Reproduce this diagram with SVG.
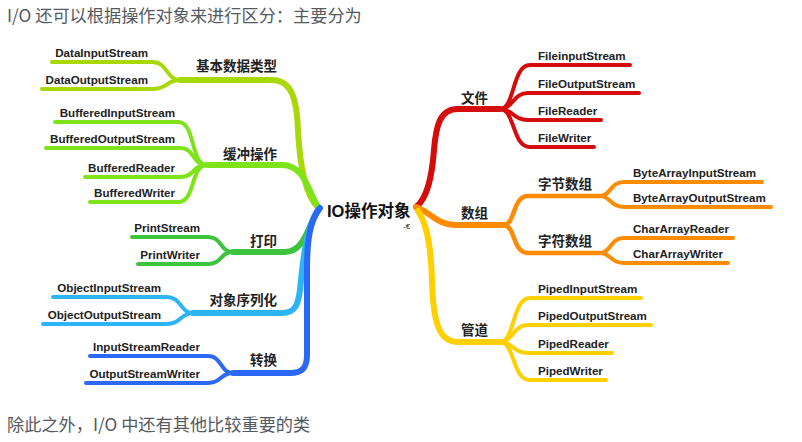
<svg xmlns="http://www.w3.org/2000/svg" width="802" height="442" viewBox="0 0 802 442">
<style>
.p{font-family:"Noto Sans CJK SC","Noto Sans",sans-serif;font-size:17.2px;fill:#555a60}
.leaf{font-family:"Liberation Sans",Arial,sans-serif;font-weight:bold;font-size:11.6px;fill:#222}
.cat{font-family:"Noto Sans CJK SC",sans-serif;font-weight:bold;font-size:13.5px;fill:#222}
.ctr{font-family:"Liberation Sans","Noto Sans CJK SC",sans-serif;font-weight:bold;font-size:16.5px;fill:#111}
path{fill:none;stroke-linecap:round;stroke-linejoin:round}
.m{stroke-width:6}
.s{stroke-width:4.5}
.l{stroke-width:4}
.c1{stroke:#a8d80a}.c2{stroke:#7fe31a}.c3{stroke:#3dc43d}.c4{stroke:#2db4f5}.c5{stroke:#2a68f5}
.c6{stroke:#d40c0c}.c7{stroke:#ff8c00}.c8{stroke:#ffd000}
</style>
<rect width="802" height="442" fill="#fff"/>
<text class="p" x="7" y="22">I/O 还可以根据操作对象来进行区分：主要分为</text>
<text class="p" x="7" y="431">除此之外，I/O 中还有其他比较重要的类</text>

<g id="connectors">
  <path class="m c1" d="M318,207 C306,196 300,170 298,130 C297,100 292,80 272,80 L180,80"/>
  <path class="l c1" d="M180,80 C166,80 168,62 152,62 L52,62"/>
  <path class="l c1" d="M180,80 C166,80 168,89 152,89 L42,89"/>
  <path class="m c2" d="M318,207 C308,190 304,165 282,165 L207,165"/>
  <path class="l c2" d="M207,165 C190,165 196,122 178,122 L55,122"/>
  <path class="l c2" d="M207,165 C192,165 195,148 180,148 L46,148"/>
  <path class="l c2" d="M207,165 C192,165 195,177 180,177 L85,177"/>
  <path class="l c2" d="M207,165 C190,165 196,202 178,202 L90,202"/>
  <path class="m c3" d="M318,210 C308,225 305,252 285,252 L233,252"/>
  <path class="l c3" d="M233,252 C220,252 222,237 208,237 L132,237"/>
  <path class="l c3" d="M233,252 C220,252 222,264 208,264 L138,264"/>
  <path class="m c4" d="M318,210 C305,230 302,270 300,290 C298,305 295,313 282,313 L193,313"/>
  <path class="l c4" d="M193,313 C180,313 182,297 166,297 L53,297"/>
  <path class="l c4" d="M193,313 C180,313 182,324 166,324 L43,324"/>
  <path class="m c5" d="M320,208 C310,220 307,240 307,270 L307,355 C307,368 302,373 290,373 L233,373"/>
  <path class="l c5" d="M233,373 C220,373 222,356 208,356 L90,356"/>
  <path class="l c5" d="M233,373 C220,373 222,383 208,383 L86,383"/>
  <path class="m c6" d="M416,207 C428,198 432,175 434,150 C436,125 440,109 458,109 L500,109"/>
  <path class="l c6" d="M500,109 C515,109 512,65 530,65 L630,65"/>
  <path class="l c6" d="M500,109 C513,109 513,93 528,93 L639,93"/>
  <path class="l c6" d="M500,109 C513,109 513,120 528,120 L601,120"/>
  <path class="l c6" d="M500,109 C515,109 512,147 530,147 L594,147"/>
  <path class="m c7" d="M416,207 C430,212 438,225 455,225 L503,225"/>
  <path class="s c7" d="M503,225 C516,225 512,196 528,196 L600,196"/>
  <path class="s c7" d="M503,225 C516,225 512,253 528,253 L600,253"/>
  <path class="l c7" d="M600,196 C611,196 610,182 624,182 L762,182"/>
  <path class="l c7" d="M600,196 C611,196 610,207 624,207 L771,207"/>
  <path class="l c7" d="M600,253 C611,253 610,238 624,238 L733,238"/>
  <path class="l c7" d="M600,253 C611,253 610,263 624,263 L728,263"/>
  <path class="m c8" d="M418,211 C428,225 431,250 432,280 C433,320 438,342 458,342 L500,342"/>
  <path class="l c8" d="M500,342 C515,342 512,298 530,298 L641,298"/>
  <path class="l c8" d="M500,342 C513,342 513,325 528,325 L651,325"/>
  <path class="l c8" d="M500,342 C513,342 513,353 528,353 L612,353"/>
  <path class="l c8" d="M500,342 C515,342 512,380 530,380 L606,380"/>
</g>

<g id="root">
  <text class="ctr" x="327" y="217">IO操作对象</text>
  <text x="403" y="229" font-family="Liberation Sans,sans-serif" font-size="8" fill="#222">-€</text>
</g>

<g id="cat-basic"><text class="cat" x="277" y="71" text-anchor="end">基本数据类型</text></g>
<g id="leaf-datain"><text class="leaf" x="148" y="57" text-anchor="end">DataInputStream</text></g>
<g id="leaf-dataout"><text class="leaf" x="148" y="84" text-anchor="end">DataOutputStream</text></g>

<g id="cat-buffer"><text class="cat" x="277" y="159" text-anchor="end">缓冲操作</text></g>
<g id="leaf-bis"><text class="leaf" x="175" y="117" text-anchor="end">BufferedInputStream</text></g>
<g id="leaf-bos"><text class="leaf" x="175" y="143" text-anchor="end">BufferedOutputStream</text></g>
<g id="leaf-br"><text class="leaf" x="175" y="172" text-anchor="end">BufferedReader</text></g>
<g id="leaf-bw"><text class="leaf" x="175" y="197" text-anchor="end">BufferedWriter</text></g>

<g id="cat-print"><text class="cat" x="277" y="246" text-anchor="end">打印</text></g>
<g id="leaf-ps"><text class="leaf" x="200" y="232" text-anchor="end">PrintStream</text></g>
<g id="leaf-pw"><text class="leaf" x="200" y="259" text-anchor="end">PrintWriter</text></g>

<g id="cat-object"><text class="cat" x="277" y="305" text-anchor="end">对象序列化</text></g>
<g id="leaf-ois"><text class="leaf" x="161" y="292" text-anchor="end">ObjectInputStream</text></g>
<g id="leaf-oos"><text class="leaf" x="161" y="319" text-anchor="end">ObjectOutputStream</text></g>

<g id="cat-convert"><text class="cat" x="277" y="365" text-anchor="end">转换</text></g>
<g id="leaf-isr"><text class="leaf" x="200" y="351" text-anchor="end">InputStreamReader</text></g>
<g id="leaf-osw"><text class="leaf" x="200" y="378" text-anchor="end">OutputStreamWriter</text></g>

<g id="cat-file"><text class="cat" x="461" y="103">文件</text></g>
<g id="leaf-fis"><text class="leaf" x="538" y="60">FileinputStream</text></g>
<g id="leaf-fos"><text class="leaf" x="538" y="88">FileOutputStream</text></g>
<g id="leaf-fr"><text class="leaf" x="538" y="115">FileReader</text></g>
<g id="leaf-fw"><text class="leaf" x="538" y="142">FileWriter</text></g>

<g id="cat-array"><text class="cat" x="461" y="218">数组</text></g>
<g id="cat-bytearray"><text class="cat" x="538" y="189">字节数组</text></g>
<g id="leaf-bais"><text class="leaf" x="633" y="177">ByteArrayInputStream</text></g>
<g id="leaf-baos"><text class="leaf" x="633" y="202">ByteArrayOutputStream</text></g>
<g id="cat-chararray"><text class="cat" x="538" y="246">字符数组</text></g>
<g id="leaf-car"><text class="leaf" x="633" y="233">CharArrayReader</text></g>
<g id="leaf-caw"><text class="leaf" x="633" y="258">CharArrayWriter</text></g>

<g id="cat-pipe"><text class="cat" x="461" y="335">管道</text></g>
<g id="leaf-pis"><text class="leaf" x="538" y="293">PipedInputStream</text></g>
<g id="leaf-pos"><text class="leaf" x="538" y="320">PipedOutputStream</text></g>
<g id="leaf-pr"><text class="leaf" x="538" y="348">PipedReader</text></g>
<g id="leaf-pw2"><text class="leaf" x="538" y="375">PipedWriter</text></g>
</svg>
